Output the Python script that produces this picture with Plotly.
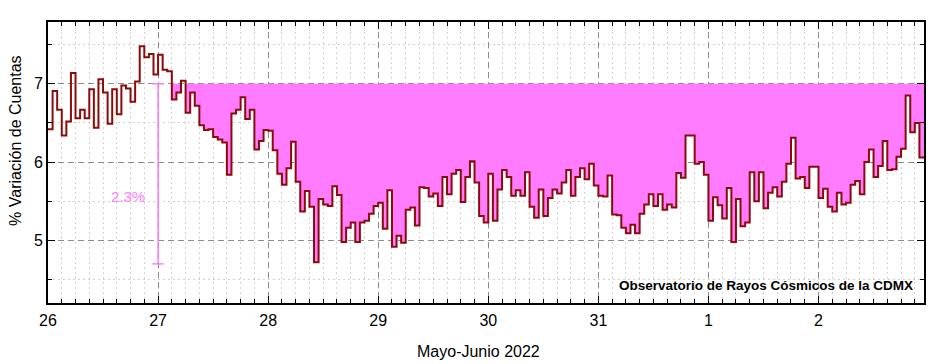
import numpy as np
import plotly.graph_objects as go

# ---------------- data ----------------
day_labels = ["26", "27", "28", "29", "30", "31", "1", "2"]

# hourly % variation of counts (one value per hour)
may26 = [6.42, 6.91, 6.67, 6.34, 6.52, 7.14, 6.56, 6.67, 6.56, 6.93, 6.44, 7.06,
         6.89, 6.49, 6.93, 6.61, 6.98, 6.94, 6.77, 7.03, 7.48, 7.34, 7.38, 7.12]
may27 = [7.37, 7.18, 7.16, 6.80, 6.89, 7.04, 6.63, 6.89, 6.72, 6.47, 6.41, 6.42,
         6.32, 6.29, 6.25, 5.84, 6.62, 6.67, 6.83, 6.55, 6.67, 6.16, 6.27, 6.41]
may28 = [6.40, 6.15, 5.85, 5.71, 5.92, 6.26, 5.75, 5.37, 5.63, 5.43, 4.72, 5.53,
         5.46, 5.44, 5.69, 5.58, 4.98, 5.16, 5.23, 4.98, 5.23, 5.25, 5.34, 5.44]
may29 = [5.48, 5.15, 5.64, 4.92, 5.06, 4.97, 5.39, 5.42, 5.19, 5.68, 5.67, 5.56,
         5.60, 5.44, 5.81, 5.59, 5.85, 5.90, 5.49, 5.81, 6.01, 5.74, 5.31, 5.23]
may30 = [5.85, 5.25, 5.65, 5.90, 5.81, 5.57, 5.64, 5.57, 5.87, 5.43, 5.29, 5.65,
         5.31, 5.54, 5.65, 5.60, 5.74, 5.90, 5.57, 5.81, 5.92, 5.78, 5.98, 5.70]
may31 = [5.57, 5.56, 5.83, 5.33, 5.32, 5.16, 5.09, 5.20, 5.09, 5.34, 5.46, 5.59,
         5.44, 5.59, 5.39, 5.46, 5.42, 5.86, 5.80, 6.34, 6.34, 5.98, 6.00, 5.84]
jun01 = [5.25, 5.55, 5.45, 5.28, 5.67, 4.98, 5.53, 5.18, 5.23, 5.87, 5.50, 5.87,
         5.41, 5.61, 5.68, 5.56, 5.75, 5.98, 6.31, 5.79, 5.81, 5.67, 5.94, 5.94]
jun02 = [5.54, 5.66, 5.43, 5.37, 5.61, 5.46, 5.48, 5.71, 5.76, 5.59, 6.00, 6.16,
         5.81, 5.95, 6.27, 5.90, 5.91, 6.07, 6.17, 6.85, 6.38, 6.50, 6.06]

ref_level = 7.0        # reference level for the shaded decrease
drop_pct = 2.3         # marked decrease
fill_start_day = 1     # shading starts on May 27
drop_day = 1           # vertical marker on May 27

values = may26 + may27 + may28 + may29 + may30 + may31 + jun01 + jun02
n = len(values)
x_edges = np.arange(n + 1) / 24.0
y_ext = values + [values[-1]]

start_idx = fill_start_day * 24
fill_x = x_edges[start_idx:]
fill_y = [min(v, ref_level) for v in y_ext[start_idx:]]

FONT = "Arial, Liberation Sans, sans-serif"
LINE_COLOR = "#8b0a0a"
FILL_COLOR = "#ff7bff"
PINK = "#ff7cff"

fig = go.Figure()
fig.add_trace(go.Scatter(x=fill_x, y=[ref_level] * len(fill_x), mode="lines",
                         line=dict(width=0, color=FILL_COLOR), line_shape="hv",
                         hoverinfo="skip", showlegend=False))
fig.add_trace(go.Scatter(x=fill_x, y=fill_y, mode="lines", fill="tonexty",
                         fillcolor=FILL_COLOR, line=dict(width=0, color=FILL_COLOR),
                         line_shape="hv", hoverinfo="skip", showlegend=False))
fig.add_trace(go.Scatter(x=x_edges, y=y_ext, mode="lines", line_shape="hv",
                         line=dict(color=LINE_COLOR, width=2), showlegend=False))
fig.add_trace(go.Scatter(x=[drop_day, drop_day], y=[ref_level, ref_level - drop_pct],
                         mode="lines+markers", line=dict(color=PINK, width=1.5),
                         marker=dict(symbol="line-ew", size=8,
                                     line=dict(color=PINK, width=1.5)),
                         showlegend=False))

axis_common = dict(
    showline=True, linecolor="black", linewidth=2, mirror="ticks",
    ticks="inside", ticklen=7, tickwidth=1, tickcolor="black",
    showgrid=True, gridcolor="#8c8c8c", gridwidth=1, griddash="6px,4px",
    zeroline=False, tickfont=dict(family=FONT, size=16, color="black"),
)

fig.update_xaxes(
    **axis_common, range=[0, n / 24.0],
    tickmode="array", tickvals=list(range(len(day_labels))), ticktext=day_labels,
    ticklabelstandoff=2,
    minor=dict(dtick=0.125, tick0=0, ticks="inside", ticklen=4, tickcolor="black",
               showgrid=True, gridcolor="#d2d2d2", griddash="2px,3px", gridwidth=1),
)
fig.update_yaxes(
    **axis_common, range=[4.2, 7.79], dtick=1, tick0=0,
    minor=dict(dtick=0.5, tick0=0, ticks="inside", ticklen=4, tickcolor="black",
               showgrid=True, gridcolor="#d2d2d2", griddash="2px,3px", gridwidth=1),
)

fig.add_annotation(x=0.7226, y=5.56, xref="x", yref="y", text=f"{drop_pct}%",
                   showarrow=False, font=dict(family=FONT, size=15, color=PINK))
fig.add_annotation(x=0.9897, y=0.064, xref="paper", yref="paper",
                   text="<b>Observatorio de Rayos Cósmicos de la CDMX</b>",
                   xanchor="right", yanchor="middle", showarrow=False,
                   font=dict(family=FONT, size=13.5, color="black"))
fig.add_annotation(x=0.492, y=-0.1736, xref="paper", yref="paper",
                   text="Mayo-Junio 2022", showarrow=False,
                   xanchor="center", yanchor="middle",
                   font=dict(family=FONT, size=16, color="black"))
fig.add_annotation(x=-0.0365, y=0.577, xref="paper", yref="paper",
                   text="% Variación de Cuentas", textangle=-90, showarrow=False,
                   xanchor="center", yanchor="middle",
                   font=dict(family=FONT, size=16, color="black"))

# page body has an 8px margin: size the figure so it ends at the window edge
fig.update_layout(
    width=930, height=356,
    margin=dict(l=40, r=12, t=13, b=61),
    paper_bgcolor="white", plot_bgcolor="white",
    showlegend=False,
)

fig.write_html("out.html")
